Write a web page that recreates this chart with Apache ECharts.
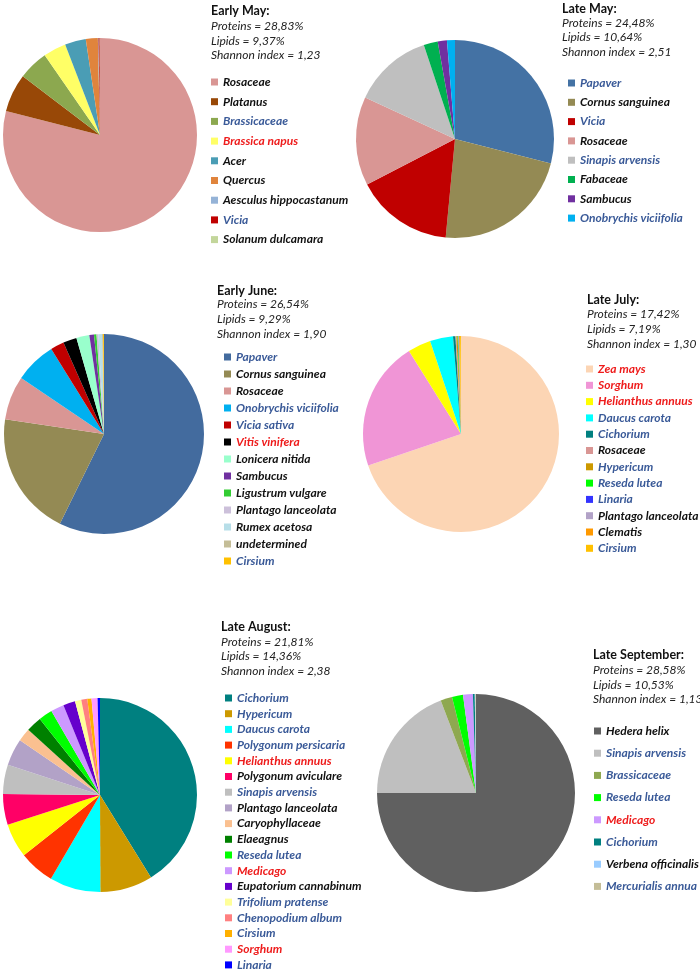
<!DOCTYPE html>
<html><head><meta charset="utf-8">
<script src="https://cdn.jsdelivr.net/npm/echarts@6/dist/echarts.min.js"></script>
<style>html,body{margin:0;padding:0;background:#fff}#c{width:700px;height:972px}</style>
</head><body><div id="c"></div>
<script>
// ---------- DATA ----------
const panelTitles = ['Early May:', 'Late May:', 'Early June:', 'Late July:', 'Late August:', 'Late September:'];
const proteins = ['28,83%', '24,48%', '26,54%', '17,42%', '21,81%', '28,58%'];
const lipids = ['9,37%', '10,64%', '9,29%', '7,19%', '14,36%', '10,53%'];
const shannon = ['1,23', '2,51', '1,90', '1,30', '2,38', '1,13'];

const earlyMayNames = ['Rosaceae', 'Platanus', 'Brassicaceae', 'Brassica napus', 'Acer', 'Quercus', 'Aesculus hippocastanum', 'Vicia', 'Solanum dulcamara'];
const earlyMayValues = [79.0, 6.4, 5.0, 3.8, 3.5, 2.0, 0.1, 0.2, 0.05];

const lateMayNames = ['Papaver', 'Cornus sanguinea', 'Vicia', 'Rosaceae', 'Sinapis arvensis', 'Fabaceae', 'Sambucus', 'Onobrychis viciifolia'];
const lateMayValues = [29.0, 22.5, 15.9, 14.5, 13.0, 2.3, 1.5, 1.3];

const earlyJuneNames = ['Papaver', 'Cornus sanguinea', 'Rosaceae', 'Onobrychis viciifolia', 'Vicia sativa', 'Vitis vinifera', 'Lonicera nitida', 'Sambucus', 'Ligustrum vulgare', 'Plantago lanceolata', 'Rumex acetosa', 'undetermined', 'Cirsium'];
const earlyJuneValues = [57.3, 20.1, 7.1, 6.7, 2.2, 2.2, 2.1, 0.75, 0.4, 0.3, 0.6, 0.15, 0.15];

const lateJulyNames = ['Zea mays', 'Sorghum', 'Helianthus annuus', 'Daucus carota', 'Cichorium', 'Rosaceae', 'Hypericum', 'Reseda lutea', 'Linaria', 'Plantago lanceolata', 'Clematis', 'Cirsium'];
const lateJulyValues = [69.8, 21.3, 3.8, 3.8, 0.4, 0.15, 0.2, 0.1, 0.05, 0.1, 0.15, 0.15];

const lateAugustNames = ['Cichorium', 'Hypericum', 'Daucus carota', 'Polygonum persicaria', 'Helianthus annuus', 'Polygonum aviculare', 'Sinapis arvensis', 'Plantago lanceolata', 'Caryophyllaceae', 'Elaeagnus', 'Reseda lutea', 'Medicago', 'Eupatorium cannabinum', 'Trifolium pratense', 'Chenopodium album', 'Cirsium', 'Sorghum', 'Linaria'];
const lateAugustValues = [41.2, 8.75, 8.5, 5.9, 5.7, 5.1, 4.9, 4.5, 2.2, 2.6, 2.3, 2.2, 2.0, 1.05, 1.0, 0.7, 1.0, 0.4];

const lateSeptemberNames = ['Hedera helix', 'Sinapis arvensis', 'Brassicaceae', 'Reseda lutea', 'Medicago', 'Cichorium', 'Verbena officinalis', 'Mercurialis annua'];
const lateSeptemberValues = [75.0, 19.2, 1.9, 1.8, 1.6, 0.3, 0.1, 0.1];

// ---------- STYLES ----------
const earlyMayColors = ['#D99694', '#984807', '#8CA84F', '#FFFF66', '#4A9DB5', '#E0843C', '#95B3D7', '#C00000', '#C3D69B'];
const earlyMayText = ['k', 'k', 'b', 'r', 'k', 'k', 'k', 'b', 'k'];
const lateMayColors = ['#4472A4', '#948A54', '#C00000', '#D99694', '#BFBFBF', '#00B050', '#7030A0', '#00B0F0'];
const lateMayText = ['b', 'k', 'b', 'k', 'b', 'k', 'k', 'b'];
const earlyJuneColors = ['#436B9E', '#948A54', '#D99694', '#00B0F0', '#C00000', '#000000', '#99FFCC', '#7030A0', '#33CC33', '#CCC0DA', '#B7DEE8', '#C4BD97', '#FFC000'];
const earlyJuneText = ['b', 'k', 'k', 'b', 'b', 'r', 'k', 'k', 'k', 'k', 'k', 'k', 'b'];
const lateJulyColors = ['#FCD5B4', '#F095D6', '#FFFF00', '#00FFFF', '#008080', '#D99694', '#CC9900', '#00FF00', '#3333FF', '#B2A2C7', '#FF9900', '#FFC000'];
const lateJulyText = ['r', 'r', 'r', 'b', 'b', 'k', 'b', 'b', 'b', 'k', 'k', 'b'];
const lateAugustColors = ['#008080', '#CC9900', '#00FFFF', '#FF3300', '#FFFF00', '#FF0066', '#BFBFBF', '#B2A2C7', '#FAC090', '#008000', '#00FF00', '#CC99FF', '#6600CC', '#FFFF99', '#FF8080', '#FFB000', '#FF99FF', '#0000FF'];
const lateAugustText = ['b', 'b', 'b', 'b', 'r', 'k', 'b', 'k', 'k', 'k', 'b', 'r', 'k', 'b', 'b', 'b', 'r', 'b'];
const lateSeptemberColors = ['#606060', '#BFBFBF', '#8EA850', '#00FF00', '#CC99FF', '#008080', '#99CCFF', '#C4BD97'];
const lateSeptemberText = ['k', 'b', 'b', 'b', 'r', 'b', 'k', 'b'];

const textColorMap = { k: '#111111', b: '#3A5A98', r: '#EE1C1C' };
const FONT = 'Lato, "Open Sans", sans-serif';

const panels = [
  { names: earlyMayNames, values: earlyMayValues, colors: earlyMayColors, text: earlyMayText,
    center: [100, 135], r: 97, hx: 211, hy: [11, 26, 41, 55], lx: 211, ly: 75, gap: 5.7 },
  { names: lateMayNames, values: lateMayValues, colors: lateMayColors, text: lateMayText,
    center: [455, 139], r: 99, hx: 562, hy: [9, 23, 37, 52], lx: 568, ly: 76, gap: 5.3 },
  { names: earlyJuneNames, values: earlyJuneValues, colors: earlyJuneColors, text: earlyJuneText,
    center: [104, 434], r: 100, hx: 217, hy: [291, 304, 319, 334], lx: 224, ly: 350, gap: 3.0 },
  { names: lateJulyNames, values: lateJulyValues, colors: lateJulyColors, text: lateJulyText,
    center: [461, 434], r: 98, hx: 587, hy: [300, 314, 329, 344], lx: 586, ly: 362, gap: 2.3 },
  { names: lateAugustNames, values: lateAugustValues, colors: lateAugustColors, text: lateAugustText,
    center: [100, 795], r: 97, hx: 221, hy: [627, 642, 656, 671], lx: 225, ly: 691, gap: 1.7 },
  { names: lateSeptemberNames, values: lateSeptemberValues, colors: lateSeptemberColors, text: lateSeptemberText,
    center: [476, 793], r: 99, hx: 593, hy: [655, 670, 685, 699], lx: 594, ly: 724, gap: 8.2 }
];

const series = [], legends = [], graphics = [];
panels.forEach((p, i) => {
  series.push({
    type: 'pie', center: p.center, radius: p.r, startAngle: 90, clockwise: true,
    label: { show: false }, labelLine: { show: false }, silent: true,
    emphasis: { disabled: true }, animation: false,
    data: p.names.map((n, k) => ({ name: n, value: p.values[k], itemStyle: { color: p.colors[k] } }))
  });
  legends.push({
    orient: 'vertical', left: p.lx, top: p.ly, itemGap: p.gap, itemWidth: 7, itemHeight: 7,
    itemTextGap: 4, icon: 'rect', selectedMode: false, padding: 0,
    textStyle: { fontFamily: FONT, fontSize: 12, fontStyle: 'italic', fontWeight: 'bold', lineHeight: 14 },
    data: p.names.map((n, k) => ({ name: n, itemStyle: { color: p.colors[k] }, textStyle: { color: textColorMap[p.text[k]] } }))
  });
  const lines = [panelTitles[i], 'Proteins = ' + proteins[i], 'Lipids = ' + lipids[i], 'Shannon index = ' + shannon[i]];
  lines.forEach((t, j) => {
    graphics.push({
      type: 'text', x: p.hx, y: p.hy[j], silent: true,
      style: { text: t, font: (j === 0 ? 'bold 12.5px ' : 'italic 12px ') + FONT, fill: j === 0 ? '#111' : '#222', verticalAlign: 'middle' }
    });
  });
});

const chart = echarts.init(document.getElementById('c'), null, { renderer: 'canvas' });
chart.setOption({ animation: false, series, legend: legends, graphic: graphics });
</script>
</body></html>
